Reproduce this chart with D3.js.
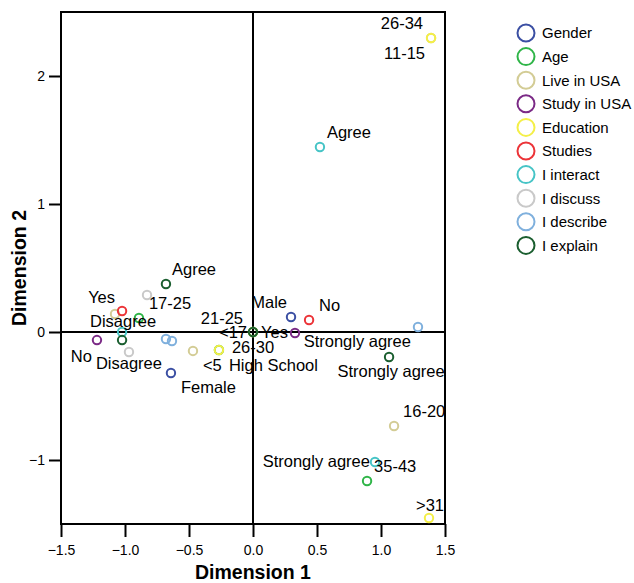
<!DOCTYPE html>
<html>
<head>
<meta charset="utf-8">
<script src="https://cdn.jsdelivr.net/npm/d3@7"></script>
<style>
  body { margin: 0; background: #fff; }
  svg { display: block; font-family: "Liberation Sans", Arial, sans-serif; }
  .axis text { font-size: 14px; fill: #000; }
  .axis line { stroke: #000; stroke-width: 2px; }
  .ptlabel { font-size: 16.5px; fill: #000; }
  .legend text { font-size: 15px; fill: #000; }
  .title { font-size: 19.5px; font-weight: bold; fill: #000; }
</style>
</head>
<body>
<script>
'use strict';

// legend groups and their colours
var groups = ["Gender", "Age", "Live in USA", "Study in USA", "Education",
              "Studies", "I interact", "I discuss", "I describe", "I explain"];
var groupColors = ["#3b4fa3", "#2fb548", "#d3cc95", "#7b2a86", "#f4ef48",
                   "#ec3438", "#46c4c6", "#c9c9c9", "#7fb0dd", "#1a5e2f"];

// category points (group index, label, dimension 1, dimension 2)
var pointGroup = [0, 0,
                  1, 1, 1, 1,
                  2, 2, 2, 2,
                  3, 3,
                  4, 4, 4, 4,
                  5, 5,
                  6, 6, 6,
                  7, 7,
                  8, 8, 8,
                  9, 9, 9, 9];
var pointLabel = ["Male", "Female",
                  "17-25", "35-43", "<17", "26-30",
                  "", "<5", "16-20", "11-15",
                  "No", "Yes",
                  "26-34", "High School", ">31", "21-25",
                  "Yes", "No",
                  "Agree", "Disagree", "Strongly agree",
                  "", "Disagree",
                  "", "", "Strongly agree",
                  "Agree", "", "", "Strongly agree"];
var dim1 = [0.297, -0.641,
            -0.891, 0.891, 0.0, -0.266,
            -1.078, -0.469, 1.102, 1.391,
            -1.219, 0.328,
            1.391, -0.266, 1.375, 0.0,
            -1.023, 0.438,
            0.523, -1.023, 0.953,
            -0.828, -0.969,
            -0.680, -0.633, 1.289,
            -0.680, -1.023, 0.0, 1.063];
var dim2 = [0.117, -0.320,
            0.109, -1.164, 0.0, -0.141,
            0.141, -0.148, -0.734, 2.297,
            -0.063, -0.008,
            2.297, -0.141, -1.453, 0.0,
            0.164, 0.094,
            1.445, 0.0, -1.016,
            0.289, -0.156,
            -0.055, -0.070, 0.039,
            0.375, -0.063, 0.0, -0.195];

var xTicks = [-1.5, -1.0, -0.5, 0.0, 0.5, 1.0, 1.5];
var yTicks = [-1, 0, 1, 2];

// where each label sits relative to its point: [anchor, dx, dy] in px
var labelPlace = [["end", -4, -9], ["start", 10, 20],
                  ["start", 10, -9], ["start", 7, -9], ["end", -6, 6], ["start", 13, 3],
                  ["start", 0, 0], ["start", 10, 20], ["start", 9, -9], ["end", -6, 21],
                  ["end", -5, 22], ["end", -7, 5],
                  ["end", -8, -9], ["start", 10, 21], ["middle", 1, -7], ["end", -10, -8],
                  ["end", -7, -8], ["start", 10, -9],
                  ["start", 7, -9], ["middle", 1, -5], ["end", -5, 5],
                  ["start", 0, 0], ["middle", 0, 17],
                  ["start", 0, 0], ["start", 0, 0], ["end", -7, 20],
                  ["start", 6, -9], ["start", 0, 0], ["start", 0, 0], ["middle", 2, 20]];

var width = 634, height = 583;
var plot = {left: 61, top: 12, right: 445, bottom: 524};

var svg = d3.select("body").append("svg")
    .attr("width", width)
    .attr("height", height);

var x = d3.scaleLinear().domain([-1.5, 1.5]).range([plot.left, plot.right]);
var y = d3.scaleLinear().domain([-1.5, 2.5]).range([plot.bottom, plot.top]);

// axes
svg.append("g")
    .attr("class", "axis")
    .attr("transform", "translate(0," + plot.bottom + ")")
    .call(d3.axisBottom(x).tickValues(xTicks).tickFormat(d3.format(".1f"))
        .tickSize(13).tickPadding(8))
    .call(function (g) { g.select(".domain").remove(); });

svg.append("g")
    .attr("class", "axis")
    .attr("transform", "translate(" + plot.left + ",0)")
    .call(d3.axisLeft(y).tickValues(yTicks).tickFormat(d3.format("d"))
        .tickSize(12).tickPadding(4))
    .call(function (g) { g.select(".domain").remove(); });

// zero lines
svg.append("line")
    .attr("x1", x(0)).attr("x2", x(0))
    .attr("y1", plot.top).attr("y2", plot.bottom)
    .attr("stroke", "#000").attr("stroke-width", 2);
svg.append("line")
    .attr("x1", plot.left).attr("x2", plot.right)
    .attr("y1", y(0)).attr("y2", y(0))
    .attr("stroke", "#000").attr("stroke-width", 2);

// frame
svg.append("rect")
    .attr("x", plot.left).attr("y", plot.top)
    .attr("width", plot.right - plot.left)
    .attr("height", plot.bottom - plot.top)
    .attr("fill", "none")
    .attr("stroke", "#000")
    .attr("stroke-width", 2);

var idx = d3.range(pointGroup.length);

svg.append("g").selectAll("circle")
    .data(idx)
    .enter().append("circle")
    .attr("cx", function (i) { return x(dim1[i]); })
    .attr("cy", function (i) { return y(dim2[i]); })
    .attr("r", 4.2)
    .attr("fill", "none")
    .attr("stroke", function (i) { return groupColors[pointGroup[i]]; })
    .attr("stroke-width", 2);

svg.append("g").selectAll("text")
    .data(idx.filter(function (i) { return pointLabel[i] !== ""; }))
    .enter().append("text")
    .attr("class", "ptlabel")
    .attr("x", function (i) { return x(dim1[i]) + labelPlace[i][1]; })
    .attr("y", function (i) { return y(dim2[i]) + labelPlace[i][2]; })
    .attr("text-anchor", function (i) { return labelPlace[i][0]; })
    .text(function (i) { return pointLabel[i]; });

// axis titles
svg.append("text")
    .attr("class", "title")
    .attr("x", (plot.left + plot.right) / 2)
    .attr("y", 579)
    .attr("text-anchor", "middle")
    .text("Dimension 1");

svg.append("text")
    .attr("class", "title")
    .attr("transform", "translate(26," + ((plot.top + plot.bottom) / 2) + ") rotate(-90)")
    .attr("text-anchor", "middle")
    .text("Dimension 2");

// legend
var legend = svg.append("g")
    .attr("class", "legend")
    .selectAll("g")
    .data(groups)
    .enter().append("g")
    .attr("transform", function (d, i) { return "translate(526," + (33 + i * 23.6) + ")"; });

legend.append("circle")
    .attr("r", 8.5)
    .attr("fill", "none")
    .attr("stroke", function (d, i) { return groupColors[i]; })
    .attr("stroke-width", 2);

legend.append("text")
    .attr("x", 16)
    .attr("dy", "0.36em")
    .text(function (d) { return d; });
</script>
</body>
</html>
